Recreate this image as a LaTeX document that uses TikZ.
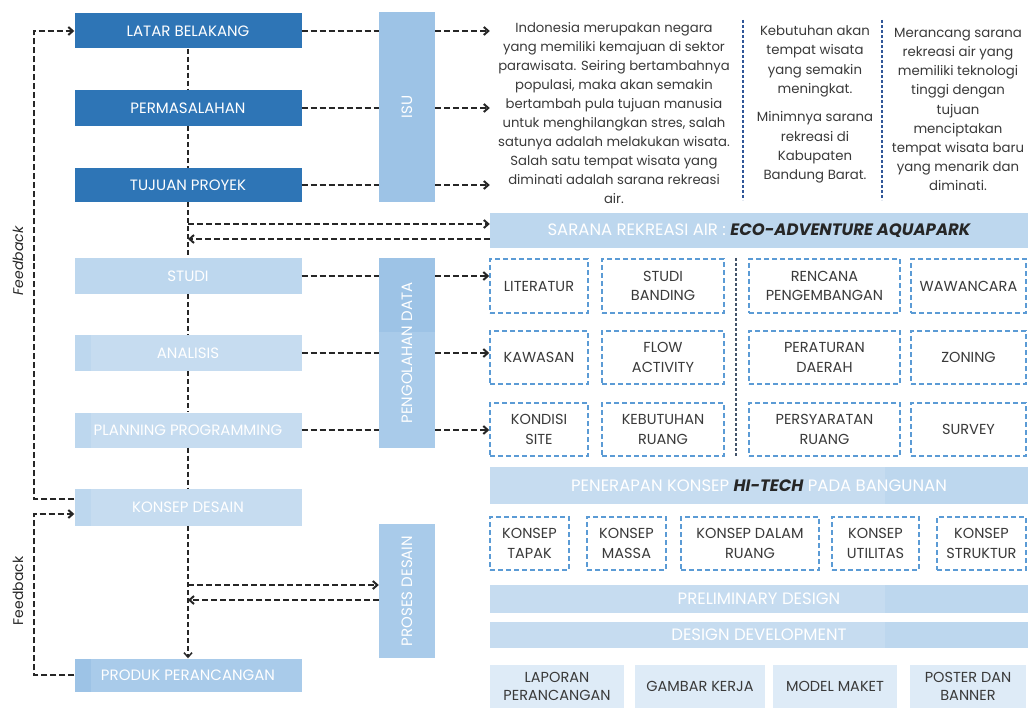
\documentclass[tikz,border=0pt]{standalone}
\usepackage{fontspec}
\setmainfont{Poppins}
\usetikzlibrary{arrows.meta}
\definecolor{darkblue}{HTML}{2E75B6}
\definecolor{midblue}{HTML}{9DC3E6}
\definecolor{midblueb}{HTML}{A9CBEA}
\definecolor{lightblue}{HTML}{BDD7EE}
\definecolor{paleblue}{HTML}{C6DCF0}
\definecolor{palest}{HTML}{DEEBF7}
\definecolor{dashblue}{HTML}{5B9BD5}
\definecolor{sepblue}{HTML}{2F5597}
\definecolor{sepgray}{HTML}{44546A}
\definecolor{txtgray}{HTML}{3A3A3A}
\tikzset{
  lbox/.style={rectangle, inner sep=0pt, minimum width=227pt, text=white, font=\fontsize{15}{17}\selectfont},
  strip/.style={path picture={\fill[#1] (path picture bounding box.north west) rectangle ([xshift=16pt]path picture bounding box.south west);}},
  vbar/.style={rectangle, inner sep=0pt, minimum width=56pt, text=white, font=\fontsize{15}{17}\selectfont},
  dbox/.style={rectangle, draw=dashblue, dash pattern=on 5pt off 3pt, line width=1.4pt, inner sep=0pt, align=center, text=txtgray, font=\fontsize{14.5}{19.5}\selectfont},
  obox/.style={rectangle, fill=palest, inner sep=0pt, align=center, text=txtgray, font=\fontsize{14.5}{18.5}\selectfont},
  band/.style={rectangle, fill=lightblue, minimum width=538pt, inner sep=0pt, text=white, font=\fontsize{16.5}{18}\selectfont},
  twotone/.style={fill=paleblue, path picture={\fill[lightblue] ([xshift=395pt]path picture bounding box.south west) rectangle (path picture bounding box.north east);}},
  para/.style={align=center, inner sep=0pt, text=txtgray},
  dl/.style={draw=black!85, line width=2pt, dash pattern=on 6pt off 3pt},
  sp/.style={draw=black!85, line width=1.5pt, dash pattern=on 5pt off 3pt},
  arr/.style={dl, -{Straight Barb[length=4.5pt,width=8pt]}},
  sparr/.style={sp, -{Straight Barb[length=4.5pt,width=8pt]}},
  fbtext/.style={text=black!85, font=\fontsize{14}{16}\selectfont, inner sep=0pt},
  sepline/.style={line width=1.1pt, dash pattern=on 3pt off 2pt}
}
\begin{document}
\begin{tikzpicture}[x=1pt,y=-1pt]
\useasboundingbox[fill=white] (0,0) rectangle (1028,711);

% left column
\node[lbox, fill=darkblue, minimum height=35pt] (lat) at (188,31) {LATAR BELAKANG};
\node[lbox, fill=darkblue, minimum height=36pt] (per) at (188,108) {PERMASALAHAN};
\node[lbox, fill=darkblue, minimum height=34pt] (tuj) at (188,185) {TUJUAN PROYEK};
\node[lbox, fill=lightblue, minimum height=36pt] (stu) at (188,276) {STUDI};
\node[lbox, fill=paleblue, strip=lightblue, minimum height=36pt] (ana) at (188,353) {ANALISIS};
\node[lbox, fill=paleblue, strip=lightblue, minimum height=35pt] (pla) at (188,430) {PLANNING PROGRAMMING};
\node[lbox, fill=paleblue, strip=lightblue, minimum height=37pt] (kon) at (188,507.5) {KONSEP DESAIN};
\node[lbox, fill=midblueb, strip=midblue, minimum height=33pt] (prd) at (188,675) {PRODUK PERANCANGAN};

% vertical bars
\node[vbar, fill=midblue, minimum height=190pt] (isu) at (407,107) {\rotatebox{90}{ISU}};
\node[vbar, fill=midblueb, minimum height=190pt, path picture={\fill[midblue] (path picture bounding box.north west) rectangle ([yshift=-74pt]path picture bounding box.north east);}] (pen) at (407,353) {\rotatebox{90}{PENGOLAHAN DATA}};
\node[vbar, fill=midblueb, minimum height=134pt] (pds) at (407,591) {\rotatebox{90}{PROSES DESAIN}};

% top texts
\node[para, font=\fontsize{13.2}{18.9}\selectfont] (t1) at (614,113) {Indonesia merupakan negara\\yang memiliki kemajuan di sektor\\parawisata. Seiring bertambahnya\\populasi, maka akan semakin\\bertambah pula tujuan manusia\\untuk menghilangkan stres, salah\\satunya adalah melakukan wisata.\\Salah satu tempat wisata yang\\diminati adalah sarana rekreasi\\air.};
\node[para, font=\fontsize{13.3}{19.3}\selectfont] (t2) at (815,104.5) {Kebutuhan akan\\tempat wisata\\yang semakin\\meningkat.\\[9pt]Minimnya sarana\\rekreasi di\\Kabupaten\\Bandung Barat.};
\node[para, font=\fontsize{13.3}{19.1}\selectfont] (t3) at (958,109.5) {Merancang sarana\\rekreasi air yang\\memiliki teknologi\\tinggi dengan\\tujuan\\menciptakan\\tempat wisata baru\\yang menarik dan\\diminati.};
\coordinate (s1a) at (743,20); \coordinate (s1b) at (743,200);
\coordinate (s2a) at (882,20); \coordinate (s2b) at (882,200);
\draw[sepline, sepblue] (s1a) -- (s1b);
\draw[sepline, sepblue] (s2a) -- (s2b);

% bands
\node[band, minimum height=35pt] (sar) at (759,230.5) {SARANA REKREASI AIR : {\bfseries\itshape\color{black!85}ECO-ADVENTURE AQUAPARK}};
\node[band, twotone, minimum height=37pt] (hit) at (759,485.5) {PENERAPAN KONSEP {\bfseries\itshape\color{black!85}HI-TECH} PADA BANGUNAN};
\node[band, twotone, minimum height=28pt] (pre) at (759,599) {PRELIMINARY DESIGN};
\node[band, twotone, minimum height=26pt] (dev) at (759,635) {DESIGN DEVELOPMENT};

% data boxes
\node[dbox, minimum width=98pt, minimum height=54pt] (b11) at (539,286) {LITERATUR};
\node[dbox, minimum width=122pt, minimum height=54pt] (b12) at (663,286) {STUDI\\BANDING};
\node[dbox, minimum width=151pt, minimum height=54pt] (b13) at (824.5,286) {RENCANA\\PENGEMBANGAN};
\node[dbox, minimum width=115pt, minimum height=54pt] (b14) at (968.5,286) {WAWANCARA};
\node[dbox, minimum width=98pt, minimum height=53pt] (b21) at (539,357.5) {KAWASAN};
\node[dbox, minimum width=122pt, minimum height=53pt] (b22) at (663,357.5) {FLOW\\ACTIVITY};
\node[dbox, minimum width=151pt, minimum height=53pt] (b23) at (824.5,357.5) {PERATURAN\\DAERAH};
\node[dbox, minimum width=115pt, minimum height=53pt] (b24) at (968.5,357.5) {ZONING};
\node[dbox, minimum width=98pt, minimum height=53pt] (b31) at (539,429.5) {KONDISI\\SITE};
\node[dbox, minimum width=122pt, minimum height=53pt] (b32) at (663,429.5) {KEBUTUHAN\\RUANG};
\node[dbox, minimum width=151pt, minimum height=53pt] (b33) at (824.5,429.5) {PERSYARATAN\\RUANG};
\node[dbox, minimum width=115pt, minimum height=53pt] (b34) at (968.5,429.5) {SURVEY};
\coordinate (s3a) at (736,258); \coordinate (s3b) at (736,457);
\draw[sepline, sepgray] (s3a) -- (s3b);

% konsep boxes
\node[dbox, minimum width=79pt, minimum height=53pt] (k1) at (529.5,543.5) {KONSEP\\TAPAK};
\node[dbox, minimum width=79pt, minimum height=53pt] (k2) at (626.5,543.5) {KONSEP\\MASSA};
\node[dbox, minimum width=138pt, minimum height=53pt] (k3) at (750,543.5) {KONSEP DALAM\\RUANG};
\node[dbox, minimum width=87pt, minimum height=53pt] (k4) at (875.5,543.5) {KONSEP\\UTILITAS};
\node[dbox, minimum width=89pt, minimum height=53pt] (k5) at (981.5,543.5) {KONSEP\\STRUKTUR};

% output boxes
\node[obox, minimum width=134pt, minimum height=43pt] (o1) at (557,686.5) {LAPORAN\\PERANCANGAN};
\node[obox, minimum width=130pt, minimum height=43pt] (o2) at (700,686.5) {GAMBAR KERJA};
\node[obox, minimum width=124pt, minimum height=43pt] (o3) at (835,686.5) {MODEL MAKET};
\node[obox, minimum width=116pt, minimum height=43pt] (o4) at (968,686.5) {POSTER DAN\\BANNER};

% spine
\draw[sp] (lat) -- (per);
\draw[sp] (per) -- (tuj);
\draw[sp] (tuj) -- (stu);
\draw[sp] (stu) -- (ana);
\draw[sp] (ana) -- (pla);
\draw[sp] (pla) -- (kon);
\draw[sparr] (kon) -- (prd);

% issue arrows
\draw[dl] (lat.east) -- (lat.east -| isu.west);
\draw[arr] (lat.east -| isu.east) -- (lat.east -| sar.west);
\draw[dl] (per.east) -- (per.east -| isu.west);
\draw[arr] (per.east -| isu.east) -- (per.east -| sar.west);
\draw[dl] (tuj.east) -- (tuj.east -| isu.west);
\draw[arr] (tuj.east -| isu.east) -- (tuj.east -| sar.west);

% sarana loop
\coordinate (j1) at (188,224);
\coordinate (j2) at (188,239);
\draw[arr] (j1) -- (j1 -| sar.west);
\draw[arr] (j2 -| sar.west) -- (j2);

% data arrows
\draw[dl] (stu.east) -- (stu.east -| pen.west);
\draw[arr] (stu.east -| pen.east) -- (stu.east -| b11.west);
\draw[dl] (ana.east) -- (ana.east -| pen.west);
\draw[arr] (ana.east -| pen.east) -- (ana.east -| b21.west);
\draw[dl] (pla.east) -- (pla.east -| pen.west);
\draw[arr] (pla.east -| pen.east) -- (pla.east -| b31.west);

% proses loop
\coordinate (j3) at (188,585);
\coordinate (j4) at (188,600);
\draw[arr] (j3) -- (j3 -| pds.west);
\draw[arr] (j4 -| pds.west) -- (j4);

% feedback
\coordinate (fb1) at (34,260);
\coordinate (fb2) at (34,590);
\draw[arr] ([yshift=8.5pt]kon.west) -| (fb1) |- (lat.west);
\draw[arr] (prd.west) -| (fb2) |- ([yshift=-6.5pt]kon.west);
\node[fbtext, font=\fontsize{14}{16}\selectfont\itshape] (fbl1) at (18,261) {\rotatebox{90}{Feedback}};
\node[fbtext] (fbl2) at (18,591) {\rotatebox{90}{Feedback}};
\end{tikzpicture}
\end{document}
